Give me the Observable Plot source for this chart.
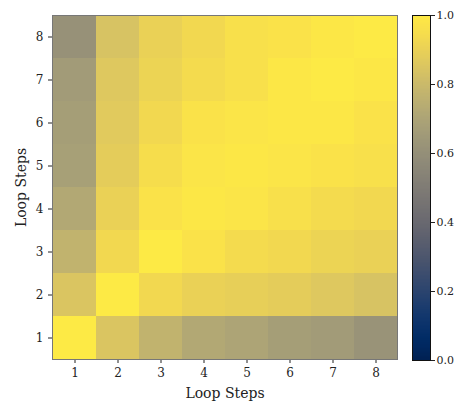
<!DOCTYPE html>
<html>
<head>
<meta charset="utf-8">
<script src="https://cdn.jsdelivr.net/npm/d3@7"></script>
<script src="https://cdn.jsdelivr.net/npm/@observablehq/plot@0.6"></script>
<style>
  html, body { margin: 0; padding: 0; background: #fff; }
  #wrap { display: flex; flex-direction: row; width: 457px; height: 403px; }
  svg { font-family: "DejaVu Serif", serif; }
</style>
</head>
<body>
<div id="wrap"></div>
<script>
const steps = [1, 2, 3, 4, 5, 6, 7, 8];
// similarity[row] where row = y (loop step), columns = x loop steps 1..8
const row1 = [1.00, 0.85, 0.77, 0.72, 0.70, 0.67, 0.66, 0.62];
const row2 = [0.85, 1.00, 0.93, 0.90, 0.89, 0.88, 0.86, 0.84];
const row3 = [0.77, 0.93, 1.00, 0.97, 0.94, 0.93, 0.91, 0.90];
const row4 = [0.72, 0.90, 0.97, 0.99, 0.98, 0.96, 0.94, 0.93];
const row5 = [0.68, 0.88, 0.95, 0.98, 0.99, 0.98, 0.97, 0.96];
const row6 = [0.67, 0.87, 0.93, 0.97, 0.98, 0.99, 0.99, 0.97];
const row7 = [0.66, 0.86, 0.91, 0.94, 0.96, 0.99, 1.00, 0.99];
const row8 = [0.61, 0.84, 0.90, 0.93, 0.96, 0.97, 0.99, 1.00];
const rows = [row1, row2, row3, row4, row5, row6, row7, row8];
const colorTicks = [0.0, 0.2, 0.4, 0.6, 0.8, 1.0];

const cells = [];
rows.forEach((r, i) => r.forEach((v, j) => cells.push({x: steps[j], y: steps[i], v})));

const main = Plot.plot({
  width: 398,
  height: 403,
  marginLeft: 52,
  marginRight: 1,
  marginTop: 15,
  marginBottom: 44,
  style: {fontFamily: "DejaVu Serif, serif", fontSize: "12px", color: "#222"},
  x: {type: "band", domain: steps, padding: 0, label: "Loop Steps", labelAnchor: "center", labelArrow: "none", labelOffset: 38, tickSize: 4},
  y: {type: "band", domain: steps, padding: 0, reverse: true, label: "Loop Steps", labelAnchor: "center", labelArrow: "none", labelOffset: 36, tickSize: 4},
  color: {type: "linear", scheme: "cividis", domain: [0, 1]},
  marks: [
    Plot.cell(cells, {x: "x", y: "y", fill: "v", inset: 0, shapeRendering: "crispEdges"}),
    Plot.frame({stroke: "#777", strokeWidth: 1})
  ]
});
main.querySelectorAll("g[aria-label='x-axis label'] text, g[aria-label='y-axis label'] text").forEach(t => t.style.fontSize = "14px");

const bands = d3.range(256).map(i => ({y1: i / 256, y2: (i + 1) / 256, v: (i + 0.5) / 256}));
const bar = Plot.plot({
  width: 59,
  height: 403,
  marginLeft: 14,
  marginRight: 27,
  marginTop: 15,
  marginBottom: 43,
  style: {fontFamily: "DejaVu Serif, serif", fontSize: "11px", color: "#222", overflow: "visible"},
  x: {axis: null, domain: [0, 1]},
  y: {domain: [0, 1], axis: "right", ticks: colorTicks, tickFormat: d3.format(".1f"), tickSize: 4, tickPadding: 2, label: null},
  color: {type: "linear", scheme: "cividis", domain: [0, 1]},
  marks: [
    Plot.rect(bands, {x1: 0, x2: 1, y1: "y1", y2: "y2", fill: "v", inset: 0, insetTop: -0.5, shapeRendering: "crispEdges"}),
    Plot.frame({stroke: "#111", strokeWidth: 1})
  ]
});

document.getElementById("wrap").append(main, bar);
</script>
</body>
</html>
